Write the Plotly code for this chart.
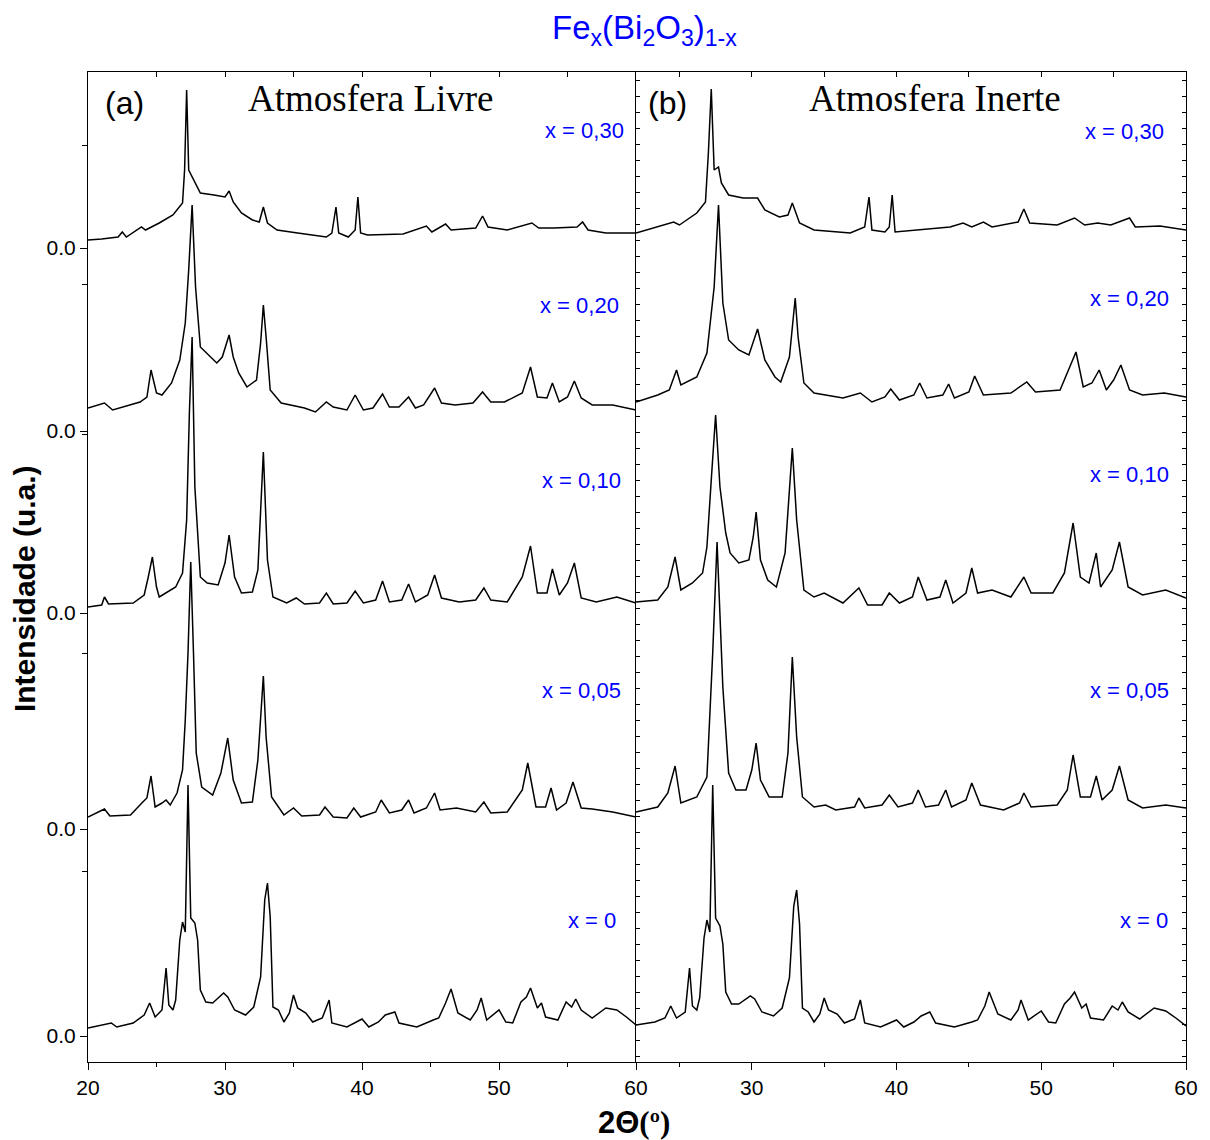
import plotly.graph_objects as go

# ---------------- data ----------------
# 2-theta (degrees) and intensity (a.u., relative to each pattern's 0.0 baseline)
LABELS = ["x = 0,30", "x = 0,20", "x = 0,10", "x = 0,05", "x = 0"]
BASELINES = [814, 631, 449, 233, 26]   # vertical offset of each pattern (a.u.)

# ---- (a) Atmosfera Livre ----
a030_t = [20.0, 21.0, 22.2, 22.5, 22.8, 23.9, 24.2, 25.2, 26.2, 26.9, 27.05, 27.2, 27.35, 27.6, 27.9, 28.2, 29.2, 30.0, 30.3, 30.6, 31.2, 32.0, 32.5, 32.8, 33.1, 33.8, 35.3, 37.4, 37.8, 38.1, 38.3, 39.0, 39.5, 39.7, 39.9, 40.4, 43.0, 44.7, 45.1, 46.1, 46.5, 48.3, 48.8, 49.2, 50.6, 52.4, 52.9, 54.0, 55.7, 56.1, 56.5, 57.8, 60.0]
a030_i = [8, 9, 11, 16, 11, 21, 18, 25, 33, 45, 78, 158, 78, 71, 63, 55, 53, 51, 57, 46, 35, 28, 26, 41, 25, 18, 15, 11, 15, 41, 15, 11, 18, 51, 15, 13, 14, 22, 16, 24, 18, 20, 32, 21, 18, 25, 20, 20, 21, 26, 18, 15, 15]

a020_t = [20.0, 21.2, 21.8, 23.8, 24.3, 24.6, 25.0, 25.4, 26.1, 26.7, 27.1, 27.35, 27.6, 27.85, 28.2, 28.8, 29.4, 29.8, 30.3, 30.6, 31.0, 31.6, 32.3, 32.6, 32.8, 33.0, 33.3, 34.1, 35.8, 36.6, 37.4, 37.9, 38.9, 39.5, 40.1, 40.8, 41.5, 42.0, 42.7, 43.4, 43.9, 44.5, 45.3, 45.8, 46.8, 48.1, 48.8, 49.4, 50.4, 51.7, 52.3, 52.8, 53.5, 53.9, 54.4, 55.0, 55.5, 56.0, 56.8, 58.3, 60.0]
a020_i = [23, 28, 21, 29, 34, 61, 38, 36, 48, 71, 108, 161, 226, 144, 84, 76, 68, 74, 96, 74, 58, 44, 51, 88, 126, 94, 41, 28, 23, 19, 29, 24, 21, 36, 21, 23, 37, 24, 24, 34, 23, 26, 43, 28, 26, 28, 39, 29, 29, 38, 64, 34, 33, 48, 29, 34, 50, 33, 26, 26, 21]

a010_t = [20.0, 21.0, 21.2, 21.5, 23.3, 24.1, 24.4, 24.7, 25.0, 25.2, 26.4, 26.9, 27.2, 27.4, 27.6, 27.8, 28.2, 28.7, 29.5, 30.0, 30.3, 30.7, 31.2, 32.0, 32.4, 32.8, 33.1, 33.5, 34.5, 35.2, 35.8, 36.9, 37.4, 37.9, 38.9, 39.5, 40.1, 41.0, 41.5, 42.0, 42.9, 43.4, 43.9, 44.8, 45.3, 45.8, 47.1, 48.3, 48.9, 49.4, 50.6, 51.7, 52.3, 52.8, 53.5, 53.9, 54.4, 55.0, 55.5, 56.0, 57.1, 58.6, 60.0]
a010_i = [6, 8, 16, 9, 10, 18, 36, 56, 26, 16, 26, 40, 93, 200, 276, 126, 36, 30, 28, 50, 78, 36, 20, 21, 43, 161, 53, 16, 10, 15, 9, 10, 20, 9, 10, 22, 10, 13, 32, 11, 13, 29, 11, 18, 38, 15, 11, 13, 25, 13, 11, 36, 67, 20, 20, 44, 18, 30, 50, 15, 11, 16, 10]

a005_t = [20.0, 21.2, 21.6, 23.1, 24.0, 24.3, 24.6, 24.9, 25.4, 25.7, 26.0, 26.5, 26.9, 27.1, 27.3, 27.5, 27.7, 27.9, 28.3, 29.1, 29.7, 30.2, 30.6, 31.2, 32.0, 32.4, 32.8, 33.0, 33.4, 34.3, 35.0, 35.6, 36.9, 37.3, 37.9, 38.9, 39.4, 39.9, 41.0, 41.4, 42.0, 42.9, 43.4, 43.8, 44.7, 45.3, 45.7, 46.9, 48.3, 48.9, 49.4, 50.6, 51.7, 52.1, 52.7, 53.4, 53.8, 54.2, 54.9, 55.4, 56.0, 56.8, 58.3, 60.0]
a005_i = [12, 20, 13, 14, 27, 31, 53, 22, 26, 29, 24, 36, 59, 109, 176, 267, 176, 76, 42, 34, 56, 91, 49, 26, 27, 69, 153, 92, 32, 14, 21, 13, 14, 22, 12, 11, 21, 12, 17, 29, 16, 19, 29, 16, 21, 36, 19, 21, 17, 27, 16, 17, 39, 66, 22, 22, 41, 19, 26, 47, 21, 20, 17, 12]

a000_t = [20.0, 21.7, 22.1, 23.3, 24.1, 24.5, 24.9, 25.4, 25.7, 25.9, 26.2, 26.4, 26.7, 26.9, 27.1, 27.3, 27.5, 27.8, 28.0, 28.2, 28.6, 29.1, 29.9, 30.2, 30.7, 31.5, 32.1, 32.6, 32.9, 33.1, 33.3, 33.5, 33.9, 34.3, 34.7, 35.0, 35.3, 35.9, 36.4, 37.1, 37.6, 37.8, 38.9, 40.0, 40.5, 41.2, 41.7, 42.4, 42.7, 44.0, 45.2, 45.6, 46.1, 46.5, 47.0, 47.9, 48.4, 48.7, 49.1, 49.7, 50.0, 50.5, 51.0, 51.6, 52.0, 52.3, 52.8, 53.1, 53.4, 54.3, 54.9, 55.3, 55.6, 56.0, 56.8, 57.8, 58.6, 59.3, 60.0]
a000_i = [8, 13, 9, 13, 21, 33, 19, 26, 68, 31, 26, 36, 96, 114, 104, 251, 118, 113, 96, 46, 34, 33, 43, 39, 26, 21, 29, 59, 136, 153, 119, 29, 26, 14, 23, 41, 28, 23, 14, 18, 36, 13, 9, 17, 9, 14, 21, 24, 13, 9, 16, 18, 33, 47, 23, 16, 26, 38, 16, 23, 26, 14, 13, 34, 39, 48, 28, 33, 19, 16, 34, 29, 37, 26, 18, 28, 26, 19, 11]

# ---- (b) Atmosfera Inerte ----
b030_t = [22.0, 23.5, 24.6, 25.0, 26.2, 26.8, 27.0, 27.2, 27.4, 27.7, 27.9, 28.4, 29.4, 30.4, 30.9, 31.9, 32.5, 32.8, 33.3, 34.3, 36.8, 37.8, 38.1, 38.3, 39.2, 39.5, 39.7, 39.9, 41.5, 43.7, 44.6, 45.2, 46.0, 46.6, 48.4, 48.8, 49.2, 51.1, 52.3, 53.0, 53.9, 54.8, 56.1, 56.5, 58.2, 60.0]
b030_i = [15, 21, 26, 23, 35, 46, 95, 159, 78, 81, 65, 53, 50, 50, 38, 31, 33, 45, 25, 18, 15, 21, 51, 18, 16, 21, 53, 16, 18, 21, 25, 21, 26, 21, 26, 39, 25, 23, 30, 23, 25, 23, 30, 21, 22, 18]

b020_t = [22.0, 23.5, 24.3, 24.8, 25.1, 26.2, 26.9, 27.4, 27.7, 28.0, 28.4, 29.1, 29.8, 30.1, 30.4, 30.9, 31.6, 32.0, 32.6, 33.0, 33.2, 33.6, 34.3, 36.3, 37.5, 38.3, 39.2, 39.6, 40.2, 41.2, 41.6, 42.1, 43.2, 43.6, 44.0, 45.0, 45.4, 46.0, 47.9, 49.0, 49.6, 51.3, 51.9, 52.4, 52.9, 53.5, 54.0, 54.5, 55.0, 55.5, 56.1, 57.0, 58.5, 60.0]
b020_i = [29, 36, 41, 61, 46, 54, 78, 144, 226, 128, 91, 81, 76, 88, 102, 71, 54, 49, 74, 133, 94, 48, 38, 33, 38, 29, 34, 42, 31, 36, 48, 33, 36, 47, 33, 39, 55, 36, 38, 49, 39, 41, 61, 79, 44, 48, 61, 41, 51, 66, 41, 36, 38, 34]

b010_t = [22.0, 23.5, 24.2, 24.7, 25.1, 25.9, 26.6, 26.9, 27.2, 27.5, 27.8, 28.2, 28.5, 29.1, 29.8, 30.1, 30.3, 30.6, 31.1, 31.7, 32.3, 32.8, 33.1, 33.6, 34.3, 35.0, 36.3, 37.4, 38.0, 39.0, 39.5, 40.2, 41.1, 41.5, 42.1, 43.0, 43.4, 43.9, 44.8, 45.2, 45.6, 46.6, 47.9, 48.8, 49.3, 50.8, 51.6, 52.2, 52.7, 53.3, 53.8, 54.1, 54.9, 55.4, 56.0, 57.0, 58.6, 60.0]
b010_i = [11, 13, 26, 56, 23, 30, 40, 66, 133, 198, 126, 80, 60, 50, 53, 76, 101, 53, 33, 26, 60, 165, 93, 23, 16, 20, 10, 25, 8, 8, 20, 10, 16, 36, 13, 16, 33, 10, 20, 45, 20, 23, 16, 36, 20, 20, 40, 90, 36, 30, 60, 26, 43, 71, 26, 18, 23, 15]

b005_t = [22.0, 23.5, 24.2, 24.7, 25.1, 26.2, 26.9, 27.3, 27.6, 28.0, 28.4, 28.9, 29.6, 30.0, 30.3, 30.6, 31.2, 32.1, 32.5, 32.8, 33.1, 33.5, 34.3, 35.1, 35.8, 37.1, 37.4, 37.8, 39.0, 39.5, 40.1, 41.1, 41.5, 42.0, 42.9, 43.4, 43.8, 44.8, 45.2, 45.8, 47.4, 48.5, 48.8, 49.3, 51.1, 51.8, 52.2, 52.7, 53.4, 53.8, 54.2, 54.9, 55.4, 56.0, 57.0, 58.6, 60.0]
b005_i = [17, 22, 36, 63, 26, 32, 52, 176, 287, 142, 56, 39, 39, 59, 86, 49, 32, 32, 76, 172, 92, 32, 22, 24, 19, 22, 31, 21, 24, 34, 22, 26, 39, 22, 24, 39, 22, 29, 46, 24, 19, 26, 36, 22, 24, 39, 74, 32, 32, 53, 29, 39, 63, 29, 21, 24, 21]

b000_t = [22.0, 23.3, 24.0, 24.4, 24.8, 25.4, 25.7, 25.9, 26.2, 26.4, 26.7, 26.9, 27.1, 27.3, 27.5, 27.8, 28.0, 28.2, 28.6, 29.1, 29.9, 30.2, 30.7, 31.5, 32.1, 32.6, 32.9, 33.1, 33.3, 33.5, 33.9, 34.3, 34.7, 35.0, 35.3, 35.9, 36.4, 37.1, 37.5, 37.8, 38.9, 40.0, 40.5, 41.2, 41.7, 42.3, 42.7, 44.0, 45.2, 45.6, 46.1, 46.4, 47.0, 47.9, 48.4, 48.6, 49.1, 49.7, 50.0, 50.5, 51.0, 51.6, 52.0, 52.3, 52.8, 53.1, 53.4, 54.3, 54.9, 55.3, 55.6, 56.0, 56.8, 57.8, 58.6, 59.3, 60.0]
b000_i = [11, 14, 18, 30, 18, 24, 68, 30, 26, 38, 98, 116, 104, 251, 118, 110, 92, 44, 32, 32, 40, 37, 24, 20, 28, 58, 130, 146, 112, 28, 24, 14, 22, 38, 26, 22, 13, 17, 36, 13, 9, 16, 9, 14, 20, 24, 13, 9, 14, 16, 30, 44, 22, 16, 26, 36, 16, 22, 25, 14, 13, 32, 38, 44, 28, 32, 18, 16, 30, 26, 34, 24, 17, 28, 25, 18, 10]

PANEL_A = [(a030_t, a030_i), (a020_t, a020_i), (a010_t, a010_i), (a005_t, a005_i), (a000_t, a000_i)]
PANEL_B = [(b030_t, b030_i), (b020_t, b020_i), (b010_t, b010_i), (b005_t, b005_i), (b000_t, b000_i)]

X_TICKS_A = [20, 30, 40, 50, 60]
X_TICKS_B = [30, 40, 50, 60]
Y_MINOR = [917, 778, 628, 409, 191]

# ---------------- figure ----------------
SANS = "Liberation Sans, Arial, sans-serif"
SERIF = "Liberation Serif, Times New Roman, serif"
BLUE = "#0000ff"

fig = go.Figure()
for (t, inten), base in zip(PANEL_A, BASELINES):
    fig.add_trace(go.Scatter(x=t, y=[v + base for v in inten], mode="lines",
                             line=dict(color="black", width=1.5), xaxis="x", yaxis="y",
                             hoverinfo="skip"))
for (t, inten), base in zip(PANEL_B, BASELINES):
    fig.add_trace(go.Scatter(x=t, y=[v + base for v in inten], mode="lines",
                             line=dict(color="black", width=1.5), xaxis="x2", yaxis="y2",
                             hoverinfo="skip"))
# invisible helpers so the top tick axes are drawn
fig.add_trace(go.Scatter(x=[20], y=[0], mode="markers", marker=dict(opacity=0),
                         xaxis="x3", yaxis="y", hoverinfo="skip"))
fig.add_trace(go.Scatter(x=[22], y=[0], mode="markers", marker=dict(opacity=0),
                         xaxis="x4", yaxis="y2", hoverinfo="skip"))

split = 549 / 1100
tickfont = dict(family=SANS, size=21, color="black")

common_x = dict(showgrid=False, zeroline=False, showline=True, linecolor="black",
                linewidth=1, tickfont=tickfont, tickcolor="black")

fig.update_layout(
    width=1210, height=1140,
    margin=dict(l=88, r=22, t=72, b=78),
    paper_bgcolor="white", plot_bgcolor="white",
    showlegend=False,
    xaxis=dict(domain=[0, split], range=[20, 60], anchor="y",
               tickmode="array", tickvals=X_TICKS_A, ticks="outside", ticklen=7,
               minor=dict(tickvals=[25, 35, 45, 55], ticks="outside", ticklen=4,
                          tickcolor="black"),
               **common_x),
    xaxis2=dict(domain=[split, 1], range=[22, 60], anchor="y2",
                tickmode="array", tickvals=X_TICKS_B, ticks="outside", ticklen=7,
                minor=dict(tickvals=[25, 35, 45, 55], ticks="outside", ticklen=4,
                           tickcolor="black"),
                **common_x),
    xaxis3=dict(overlaying="x", side="top", range=[20, 60], anchor="y",
                tickmode="linear", tick0=20, dtick=5, ticks="inside", ticklen=5,
                showticklabels=False, showgrid=False, zeroline=False, showline=True,
                linecolor="black", linewidth=1, tickcolor="black"),
    xaxis4=dict(overlaying="x2", side="top", range=[22, 60], anchor="y2",
                tickmode="linear", tick0=25, dtick=5, ticks="inside", ticklen=5,
                showticklabels=False, showgrid=False, zeroline=False, showline=True,
                linecolor="black", linewidth=1, tickcolor="black"),
    yaxis=dict(range=[0, 990], anchor="x", showgrid=False, zeroline=False,
               showline=True, linecolor="black", linewidth=1,
               tickmode="array", tickvals=BASELINES, ticktext=["0.0"] * 5,
               ticks="outside", ticklen=7, tickcolor="black", tickfont=tickfont,
               minor=dict(tickvals=Y_MINOR, ticks="outside", ticklen=5, tickcolor="black")),
    yaxis2=dict(range=[0, 990], anchor="x2", showgrid=False, zeroline=False,
                showline=True, linecolor="black", linewidth=1, mirror="ticks",
                tickmode="linear", tick0=6, dtick=16, ticks="inside", ticklen=4,
                tickcolor="black", showticklabels=False),
)

def px_x(px):
    return (px - 88) / 1100

def px_y(py):
    return (1062 - py) / 990

annotations = [
    dict(x=px_x(646), y=px_y(30), text="Fe<sub>x</sub>(Bi<sub>2</sub>O<sub>3</sub>)<sub>1-x</sub>",
         font=dict(family=SANS, size=33, color=BLUE), xanchor="center", yanchor="middle"),
    dict(x=px_x(125), y=px_y(103), text="(a)", font=dict(family=SANS, size=32, color="black"),
         xanchor="center", yanchor="middle"),
    dict(x=px_x(372), y=px_y(99), text="Atmosfera Livre", font=dict(family=SERIF, size=37, color="black"),
         xanchor="center", yanchor="middle"),
    dict(x=px_x(669), y=px_y(103), text="(b)", font=dict(family=SANS, size=32, color="black"),
         xanchor="center", yanchor="middle"),
    dict(x=px_x(937), y=px_y(99), text="Atmosfera Inerte", font=dict(family=SERIF, size=37, color="black"),
         xanchor="center", yanchor="middle"),
    dict(x=px_x(25), y=px_y(589), text="<b>Intensidade (u.a.)</b>", textangle=-90,
         font=dict(family=SANS, size=30, color="black"), xanchor="center", yanchor="middle"),
    dict(x=px_x(635), y=px_y(1122),
         text="<b>2Θ</b><span style='font-family:Liberation Serif, Times New Roman, serif'><b>(º)</b></span>",
         font=dict(family=SANS, size=31, color="black"), xanchor="center", yanchor="middle"),
]

label_pos_a = [(627, 130), (622, 305), (624, 480), (624, 690), (619, 920)]
label_pos_b = [(1168, 131), (1173, 298), (1173, 475), (1173, 690), (1172, 920)]
for lab, (px, py) in zip(LABELS, label_pos_a):
    annotations.append(dict(x=px_x(px), y=px_y(py), text=lab, xanchor="right", yanchor="middle",
                            font=dict(family=SANS, size=22, color=BLUE)))
for lab, (px, py) in zip(LABELS, label_pos_b):
    annotations.append(dict(x=px_x(px), y=px_y(py), text=lab, xanchor="right", yanchor="middle",
                            font=dict(family=SANS, size=22, color=BLUE)))

for a in annotations:
    a.update(xref="paper", yref="paper", showarrow=False)
fig.update_layout(annotations=annotations)

fig.write_html("out.html", config={"displayModeBar": False},
               post_script="document.body.style.margin='0';document.body.style.overflow='hidden';")
